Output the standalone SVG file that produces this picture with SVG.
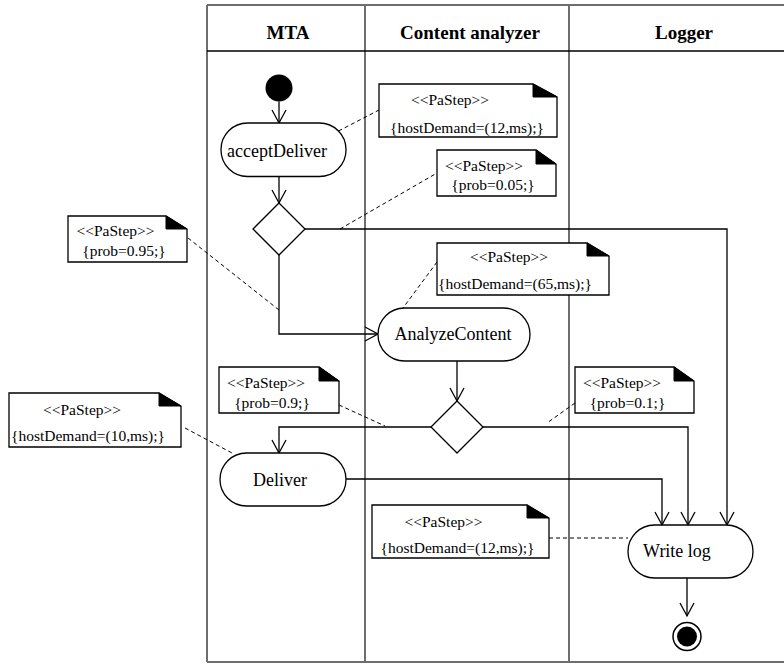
<svg xmlns="http://www.w3.org/2000/svg" width="784" height="664" viewBox="0 0 784 664">
<style>
.lane{stroke:#6e6e6e;stroke-width:2;fill:none}
text{font-family:'Liberation Serif','DejaVu Serif',serif}
.hdr{font-weight:bold;font-size:19px;text-anchor:middle;fill:#000}
.node{fill:#fff;stroke:#000;stroke-width:1.3}
.lbl{font-size:18px;text-anchor:middle;fill:#000}
.note{fill:#fff;stroke:#000;stroke-width:1.3}
.fold{fill:#000;stroke:#000;stroke-width:1}
.nt{font-size:15.5px;text-anchor:middle;fill:#000}
.edge{fill:none;stroke:#000;stroke-width:1.3}
.dash{fill:none;stroke:#000;stroke-width:1;stroke-dasharray:4,3}
</style>
<defs>
<marker id="arr" markerWidth="16" markerHeight="16" viewBox="-14 -8 16 16" refX="0" refY="0" orient="auto" markerUnits="userSpaceOnUse">
<path d="M-13,-7 L0,0 L-13,7" fill="none" stroke="#000" stroke-width="1.3"/>
</marker>
</defs>
<rect width="784" height="664" fill="#fff"/>
<g id="swimlanes">
<line class="lane" x1="207" y1="5" x2="790" y2="5"/>
<line class="lane" x1="207" y1="662" x2="790" y2="662"/>
<line class="lane" x1="207" y1="5" x2="207" y2="662"/>
<line class="lane" x1="365" y1="5" x2="365" y2="662"/>
<line class="lane" x1="569" y1="5" x2="569" y2="662"/>
<line x1="207" y1="51" x2="790" y2="51" stroke="#000" stroke-width="1.5"/>
<text class="hdr" x="288" y="39" font-family="Liberation Serif, DejaVu Serif, serif">MTA</text>
<text class="hdr" x="470" y="39" font-family="Liberation Serif, DejaVu Serif, serif">Content analyzer</text>
<text class="hdr" x="684" y="39" font-family="Liberation Serif, DejaVu Serif, serif">Logger</text>
</g>
<g id="connectors">
<path class="edge" d="M279,101.5 L279,123" marker-end="url(#arr)"/>
<path class="edge" d="M279,176.5 L279,203" marker-end="url(#arr)"/>
<path class="edge" d="M279,255 L279,334 L378,334" marker-end="url(#arr)"/>
<path class="edge" d="M305,229 L727,229 L727,525" marker-end="url(#arr)"/>
<path class="edge" d="M457,361 L457,401" marker-end="url(#arr)"/>
<path class="edge" d="M431,427 L279,427 L279,453" marker-end="url(#arr)"/>
<path class="edge" d="M483,427 L688,427 L688,525" marker-end="url(#arr)"/>
<path class="edge" d="M346,479 L662,479 L662,525" marker-end="url(#arr)"/>
<path class="edge" d="M687,578 L687,616" marker-end="url(#arr)"/>
<path class="dash" d="M338.5,131 L379,110"/>
<path class="dash" d="M340,229 L437,173"/>
<path class="dash" d="M188,238 L279,310"/>
<path class="dash" d="M437,262 L403,308"/>
<path class="dash" d="M339,405 L385,426"/>
<path class="dash" d="M575,403 L547,423"/>
<path class="dash" d="M185,428 L232,453"/>
<path class="dash" d="M549,538 L628,538"/>
</g>
<g id="initial"><circle cx="279" cy="88" r="13.5" fill="#000"/></g>
<g id="acceptDeliver">
<rect class="node" x="221" y="123" width="125" height="53.5" rx="26.5"/>
<text class="lbl" x="277" y="157">acceptDeliver</text>
</g>
<g id="decision1"><path class="node" d="M279,203 L305,229 L279,255 L253,229 Z"/></g>
<g id="AnalyzeContent">
<rect class="node" x="378" y="308" width="152" height="53" rx="26.5"/>
<text class="lbl" x="453" y="340">AnalyzeContent</text>
</g>
<g id="decision2"><path class="node" d="M457,401 L483,427 L457,453 L431,427 Z"/></g>
<g id="Deliver">
<rect class="node" x="220" y="453" width="126" height="53" rx="26.5"/>
<text class="lbl" x="280" y="486">Deliver</text>
</g>
<g id="WriteLog">
<rect class="node" x="628" y="525" width="125" height="53" rx="26.5"/>
<text class="lbl" x="677" y="557">Write log</text>
</g>
<g id="final">
<circle cx="687" cy="636.5" r="14" fill="#fff" stroke="#000" stroke-width="1.5"/>
<circle cx="687" cy="636.5" r="10" fill="#000"/>
</g>
<g id="note1">
<path class="note" d="M379,84 L533,84 L557,97 L557,137 L379,137 Z"/>
<path class="fold" d="M533,84 L533,97 L557,97 Z"/>
<text class="nt" x="450" y="105">&lt;&lt;PaStep&gt;&gt;</text>
<text class="nt" x="467" y="133">{hostDemand=(12,ms);}</text>
</g>
<g id="note2">
<path class="note" d="M437,150 L536,150 L556,164 L556,196 L437,196 Z"/>
<path class="fold" d="M536,150 L536,164 L556,164 Z"/>
<text class="nt" x="484" y="171">&lt;&lt;PaStep&gt;&gt;</text>
<text class="nt" x="493" y="190">{prob=0.05;}</text>
</g>
<g id="note3">
<path class="note" d="M68,216 L166,216 L187,229 L187,262 L68,262 Z"/>
<path class="fold" d="M166,216 L166,229 L187,229 Z"/>
<text class="nt" x="115.5" y="236">&lt;&lt;PaStep&gt;&gt;</text>
<text class="nt" x="124" y="256">{prob=0.95;}</text>
</g>
<g id="note4">
<path class="note" d="M437,243 L587,243 L609,256 L609,295 L437,295 Z"/>
<path class="fold" d="M587,243 L587,256 L609,256 Z"/>
<text class="nt" x="509" y="262">&lt;&lt;PaStep&gt;&gt;</text>
<text class="nt" x="515" y="289">{hostDemand=(65,ms);}</text>
</g>
<g id="note5">
<path class="note" d="M219,367 L319,367 L339,381 L339,413 L219,413 Z"/>
<path class="fold" d="M319,367 L319,381 L339,381 Z"/>
<text class="nt" x="266" y="388">&lt;&lt;PaStep&gt;&gt;</text>
<text class="nt" x="272" y="408">{prob=0.9;}</text>
</g>
<g id="note6">
<path class="note" d="M575,367 L674,367 L694,381 L694,413 L575,413 Z"/>
<path class="fold" d="M674,367 L674,381 L694,381 Z"/>
<text class="nt" x="622" y="388">&lt;&lt;PaStep&gt;&gt;</text>
<text class="nt" x="627.5" y="408">{prob=0.1;}</text>
</g>
<g id="note7">
<path class="note" d="M9,393 L159,393 L181,406 L181,447 L9,447 Z"/>
<path class="fold" d="M159,393 L159,406 L181,406 Z"/>
<text class="nt" x="82" y="415">&lt;&lt;PaStep&gt;&gt;</text>
<text class="nt" x="88" y="441">{hostDemand=(10,ms);}</text>
</g>
<g id="note8">
<path class="note" d="M372,505 L527,505 L549,518 L549,558 L372,558 Z"/>
<path class="fold" d="M527,505 L527,518 L549,518 Z"/>
<text class="nt" x="443.5" y="527">&lt;&lt;PaStep&gt;&gt;</text>
<text class="nt" x="457.5" y="553">{hostDemand=(12,ms);}</text>
</g>
</svg>
